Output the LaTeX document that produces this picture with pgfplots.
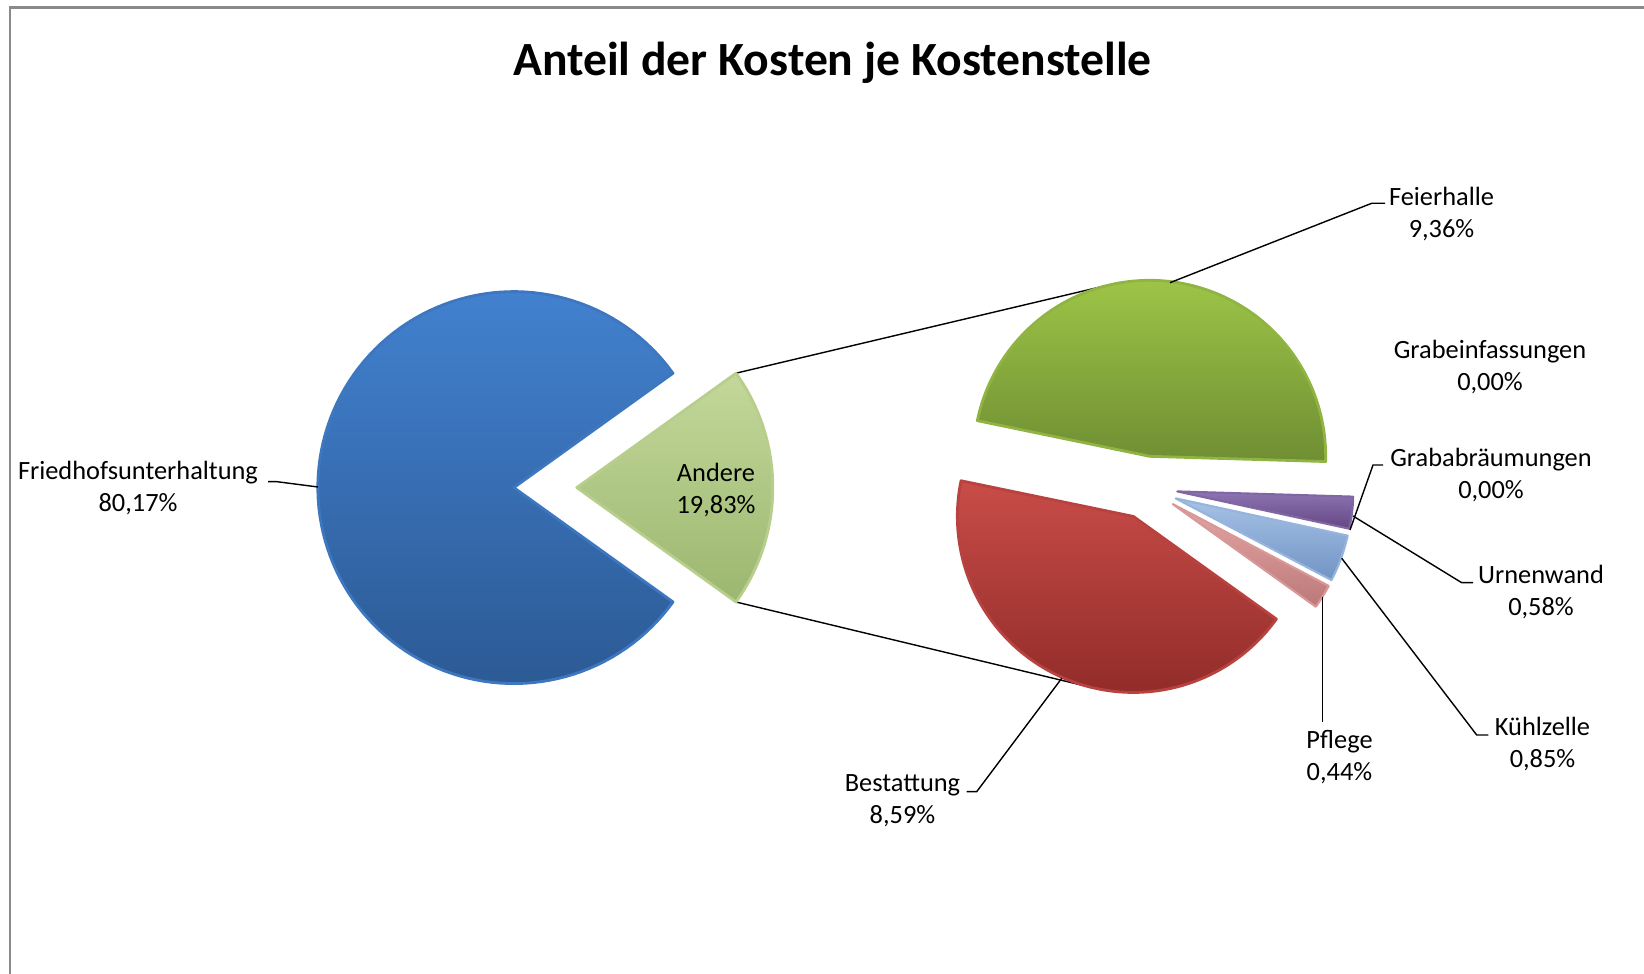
\documentclass[border=0pt]{standalone}
\usepackage{pgfplots}
\usepackage{pgfplotstable}
\pgfplotsset{compat=1.18}
\usepackage{fontspec}
\setmainfont{Carlito}

\definecolor{blueT}{HTML}{4281CF}
\definecolor{blueB}{HTML}{2C5A95}
\definecolor{andT}{HTML}{C3D89A}
\definecolor{andB}{HTML}{9CB770}
\definecolor{feiT}{HTML}{9DC447}
\definecolor{feiB}{HTML}{6F8E33}
\definecolor{besT}{HTML}{C94C48}
\definecolor{besB}{HTML}{922C29}
\definecolor{urnT}{HTML}{8E74B2}
\definecolor{urnB}{HTML}{634784}
\definecolor{kueT}{HTML}{A6C2E6}
\definecolor{kueB}{HTML}{7194C4}
\definecolor{pflT}{HTML}{E6A6A6}
\definecolor{pflB}{HTML}{BC7878}
\definecolor{frame}{HTML}{8A8A8A}

\pgfplotstableread{
label value
Friedhofsunterhaltung 80.17
Andere 19.83
}\maintable

\pgfplotstableread{
label value
Feierhalle 9.36
Bestattung 8.59
Pflege 0.44
Kuehlzelle 0.85
Urnenwand 0.58
Grababraeumungen 0.00
Grabeinfassungen 0.00
}\subtable

\pgfplotstablegetelem{0}{value}\of\maintable \let\vFH\pgfplotsretval
\pgfplotstablegetelem{1}{value}\of\maintable \let\vAn\pgfplotsretval
\pgfplotstablegetelem{0}{value}\of\subtable \let\vFe\pgfplotsretval
\pgfplotstablegetelem{1}{value}\of\subtable \let\vBe\pgfplotsretval
\pgfplotstablegetelem{2}{value}\of\subtable \let\vPf\pgfplotsretval
\pgfplotstablegetelem{3}{value}\of\subtable \let\vKu\pgfplotsretval
\pgfplotstablegetelem{4}{value}\of\subtable \let\vUr\pgfplotsretval
\pgfplotstablegetelem{5}{value}\of\subtable \let\vGa\pgfplotsretval
\pgfplotstablegetelem{6}{value}\of\subtable \let\vGe\pgfplotsretval

% main pie angles
\pgfmathsetmacro\ha{\vAn*1.8}
\pgfmathsetmacro\hb{360-\ha}
\pgfmathsetmacro\hm{-\ha}
% secondary pie angles
\pgfmathsetmacro\T{\vFe+\vBe+\vPf+\vKu+\vUr+\vGa+\vGe}
\pgfmathsetmacro\sA{-1.7}
\pgfmathsetmacro\sB{\sA+360*\vFe/\T}
\pgfmathsetmacro\sC{\sB+360*\vBe/\T}
\pgfmathsetmacro\sD{\sC+360*\vPf/\T}
\pgfmathsetmacro\sE{\sD+360*\vKu/\T}
\pgfmathsetmacro\sF{\sE+360*\vUr/\T}

% slice: cx, cy, r, a, b, explode, style
\newcommand\slice[7]{%
  \pgfmathsetmacro\sm{(#4+#5)/2}%
  \pgfmathsetmacro\sx{#1+#6*cos(\sm)}%
  \pgfmathsetmacro\sy{#2-#6*sin(\sm)}%
  \edef\temp{\noexpand\addplot[#7, domain=#4:#5, samples=120]
    ({\sx+#3*cos(x)},{\sy-#3*sin(x)}) -- (axis cs:\sx,\sy) -- cycle;}%
  \temp}

\tikzset{
  sblue/.style={top color=blueT, bottom color=blueB, draw=blueT!75!blueB, line width=0.8pt, line join=round},
  sand/.style={top color=andT, bottom color=andB, draw=andT!70!andB, line width=0.8pt, line join=round},
  sfei/.style={top color=feiT, bottom color=feiB, draw=feiT!70!feiB, line width=0.8pt, line join=round},
  sbes/.style={top color=besT, bottom color=besB, draw=besT!70!besB, line width=0.8pt, line join=round},
  surn/.style={top color=urnT, bottom color=urnB, draw=urnT!70!urnB, line width=0.6pt, line join=round},
  skue/.style={top color=kueT, bottom color=kueB, draw=kueT!70!kueB, line width=0.6pt, line join=round},
  spfl/.style={top color=pflT, bottom color=pflB, draw=pflT!70!pflB, line width=0.6pt, line join=round},
  lbl/.style={align=center, font=\fontsize{7.5}{9.2}\selectfont, inner sep=0pt},
  ldr/.style={draw=black, line width=0.4pt}
}

\begin{document}
\begin{tikzpicture}
\begin{axis}[
  x=0.01cm, y=0.01cm,
  xmin=0, xmax=1644, ymin=0, ymax=974,
  y dir=reverse,
  hide axis, clip=false,
]
\path (axis cs:0,0) rectangle (axis cs:1644,974);

% frame
\draw[overlay, frame, line width=0.6pt] (axis cs:10,1000) -- (axis cs:10,7.5) -- (axis cs:1700,7.5);

% title
\node[anchor=base, font=\fontsize{13.55}{16}\selectfont\bfseries, inner sep=0pt]
  at (axis cs:832.5,75.5) {Anteil der Kosten je Kostenstelle};

% connector lines
\draw[ldr] (axis cs:736,373.2) -- (axis cs:1108.6,285);
\draw[ldr] (axis cs:736,602) -- (axis cs:1093.7,688);

% main pie
\slice{513.8}{487.6}{196}{\ha}{\hb}{0}{sblue}
\slice{513.8}{487.6}{196}{\hm}{\ha}{63}{sand}

% secondary pie
\slice{1146}{487.6}{176}{\sA}{\sB}{31.5}{sfei}
\slice{1146}{487.6}{176}{\sB}{\sC}{31.5}{sbes}
\slice{1146}{487.6}{176}{\sC}{\sD}{31.5}{spfl}
\slice{1146}{487.6}{176}{\sD}{\sE}{31.5}{skue}
\slice{1146}{487.6}{176}{\sE}{\sF}{31.5}{surn}

% leader lines
\draw[ldr] (axis cs:318,487) -- (axis cs:277,481.7) -- (axis cs:268,481.7);
\draw[ldr] (axis cs:1170,282.7) -- (axis cs:1371.7,203.3) -- (axis cs:1385,203.3);
\draw[ldr] (axis cs:1061.7,678.3) -- (axis cs:976.7,791.7) -- (axis cs:966.7,791.7);
\draw[ldr] (axis cs:1353,516) -- (axis cs:1461.7,582.7) -- (axis cs:1473,582.7);
\draw[ldr] (axis cs:1350,530) -- (axis cs:1373,465) -- (axis cs:1383,465);
\draw[ldr] (axis cs:1341.7,558.3) -- (axis cs:1476.7,735) -- (axis cs:1488.3,735);
\draw[ldr] (axis cs:1322.3,596.7) -- (axis cs:1322.3,721.7);

% labels
\node[lbl] at (axis cs:138,488) {Friedhofsunterhaltung\\80,17\%};
\node[lbl] at (axis cs:716,490) {Andere\\19,83\%};
\node[lbl] at (axis cs:1441.5,214) {Feierhalle\\9,36\%};
\node[lbl] at (axis cs:1490,367) {Grabeinfassungen\\0,00\%};
\node[lbl] at (axis cs:1491,475) {Grababräumungen\\0,00\%};
\node[lbl] at (axis cs:1541,592) {Urnenwand\\0,58\%};
\node[lbl] at (axis cs:1542.5,744) {Kühlzelle\\0,85\%};
\node[lbl] at (axis cs:1339.5,757) {Pflege\\0,44\%};
\node[lbl] at (axis cs:902.5,801) {Bestattung\\8,59\%};
\end{axis}
\end{tikzpicture}
\end{document}
